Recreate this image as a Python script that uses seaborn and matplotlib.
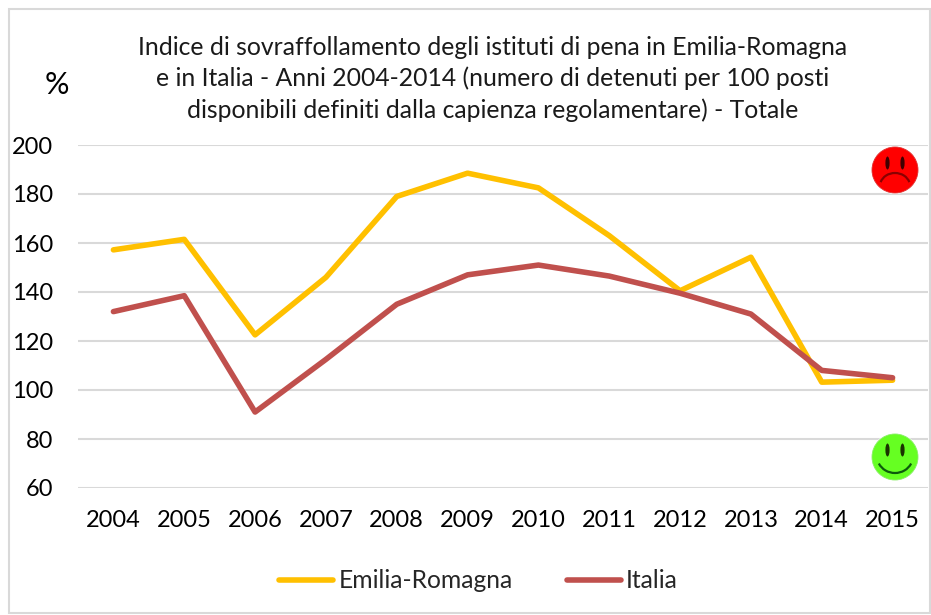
import numpy as np
import pandas as pd
import matplotlib
matplotlib.use("Agg")
import matplotlib.pyplot as plt
from matplotlib.patches import Circle, Rectangle, Arc, Ellipse
from matplotlib.lines import Line2D
import seaborn as sns

years = [2004, 2005, 2006, 2007, 2008, 2009, 2010, 2011, 2012, 2013, 2014, 2015]
emilia = [157.2, 161.5, 122.5, 146, 179, 188.5, 182.5, 163, 140.5, 154.2, 103.2, 104]
italia = [132, 138.5, 91, 112.5, 135, 147, 151, 146.5, 139.5, 131, 108, 105]
yticks = [60, 80, 100, 120, 140, 160, 180, 200]
title = ("Indice di sovraffollamento degli istituti di pena in Emilia-Romagna\n"
         "e in Italia - Anni 2004-2014 (numero di detenuti per 100 posti\n"
         "disponibili definiti dalla capienza regolamentare) - Totale")
names = ["Emilia-Romagna", "Italia"]
colors = ["#FFC000", "#C0504D"]

sns.set_theme(style="white")
plt.rcParams['font.family'] = ['Lato', 'DejaVu Sans']
W, H = 931, 615
fig = plt.figure(figsize=(W/100, H/100), dpi=100)
fig.patches.append(Rectangle((9/W, 1-613/H), 921/W, 604/H, transform=fig.transFigure,
                             fc="white", ec="#D9D9D9", lw=1.5, zorder=-5))

# plot area in pixels
L, R, T, B = 78, 928, 145, 488
ax = fig.add_axes([L/W, 1-B/H, (R-L)/W, (B-T)/H], zorder=2)
ax.patch.set_alpha(0)
df = pd.DataFrame({"year": [str(y) for y in years]*2,
                   "value": emilia+italia,
                   "series": [names[0]]*len(years)+[names[1]]*len(years)})
sns.lineplot(data=df, x="year", y="value", hue="series", palette=colors, ax=ax,
             lw=4.0, legend=False, sort=False, zorder=3,
             solid_capstyle="round", solid_joinstyle="round")
ax.set_xlim(-0.5, len(years)-0.5)
ax.set_ylim(60, 200)
ax.set_yticks(yticks)
ax.grid(axis="y", color="#D9D9D9", lw=1.5, zorder=0)
ax.grid(axis="x", visible=False)
ax.set_xlabel("")
ax.set_ylabel("")
for s in ax.spines.values():
    s.set_visible(False)
ax.tick_params(axis="both", length=0, labelsize=17, labelcolor="black")
ax.tick_params(axis="x", pad=16)
ax.tick_params(axis="y", pad=18)

fig.text(493/W, 1-79/H, title, ha="center", va="center", fontsize=17.8,
         color="#1a1a1a", linespacing=1.4)
fig.text(56.5/W, 1-85.5/H, "%", ha="center", va="center", fontsize=22, color="black")

# legend
handles = [Line2D([], [], color=c, lw=4.0, solid_capstyle="round") for c in colors]
fig.legend(handles, names, loc="center", bbox_to_anchor=(478.5/W, 1-581/H), ncol=2,
           frameon=False, fontsize=17.7, handlelength=2.2, handletextpad=0.2,
           columnspacing=2.2)

def face(cx, cy, color, dark, happy):
    r = 24
    a = fig.add_axes([(cx-r)/W, 1-(cy+r)/H, 2*r/W, 2*r/H], zorder=3)
    a.set_xlim(-r, r); a.set_ylim(-r, r); a.axis("off"); a.set_aspect("equal")
    a.add_patch(Circle((0, 0), r, fc="white", ec="none"))
    a.add_patch(Circle((0, 0), 23, fc=color, ec=dark, lw=0.6))
    for sx in (-7.5, 7.5):
        a.add_patch(Ellipse((sx, 7), 4.2, 13, fc="#1a3300" if happy else "#400000", ec="none"))
    if happy:
        a.add_patch(Arc((0, 1), 36, 34, theta1=205, theta2=335, color="#0c5a0c", lw=1.6))
    else:
        a.add_patch(Arc((0, -16), 30, 26, theta1=15, theta2=165, color="#8a0000", lw=1.6))

face(895, 170, "#FF0000", "#e03030", False)
face(895, 457, "#66FF22", "#88ee66", True)

fig.savefig("out.png", dpi=100)
